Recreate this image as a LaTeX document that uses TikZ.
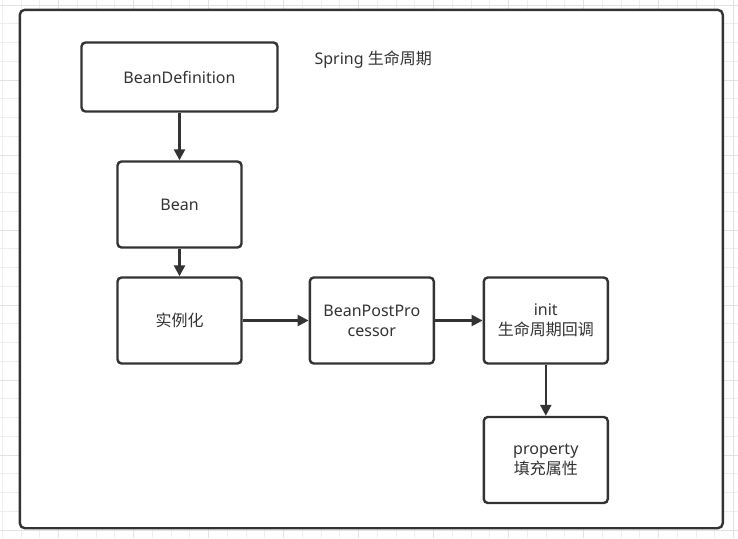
\documentclass[tikz,border=0pt]{standalone}
\usepackage{fontspec}
\setmainfont{Noto Sans}
\newfontfamily\cjk{Noto Sans CJK SC}
\usetikzlibrary{arrows.meta}
\definecolor{ink}{HTML}{333333}
\definecolor{gridminor}{HTML}{EEEEEE}
\definecolor{gridmajor}{HTML}{E2E2E2}
\tikzset{
  stepbox/.style={draw=ink, line width=2.4pt, rounded corners=4pt, fill=white,
    text=ink, align=center, inner sep=0pt,
    font=\fontsize{16}{20}\selectfont,
    minimum width=124pt, minimum height=86pt},
  flow/.style={draw=ink, line width=2.4pt, -{Triangle[length=11pt,width=11pt]}},
}
\begin{document}
\begin{tikzpicture}[x=1pt,y=-1pt]
  \useasboundingbox (0,0) rectangle (738,538);
  % background grid
  \foreach \gx in {2.25,21,...,740} \draw[gridminor, line width=0.8pt] (\gx,0) -- (\gx,538);
  \foreach \gy in {5,23.75,...,540} \draw[gridminor, line width=0.8pt] (0,\gy) -- (738,\gy);
  \foreach \gx in {58.5,133.5,...,740} \draw[gridmajor, line width=0.8pt] (\gx,0) -- (\gx,538);
  \foreach \gy in {5,80,...,540} \draw[gridmajor, line width=0.8pt] (0,\gy) -- (738,\gy);
  % outer frame
  \draw[ink, line width=2.4pt, rounded corners=5pt, fill=white] (19.8,9.8) rectangle (722.8,528.2);
  % title
  \node[text=ink, font=\fontsize{16}{20}\selectfont, anchor=west] (title) at (311,60) {Spring {\cjk 生命周期}};
  % steps
  \node[stepbox, minimum width=196pt, minimum height=69pt] (def) at (179.5,77) {BeanDefinition};
  \node[stepbox] (bean) at (179.5,204.5) {Bean};
  \node[stepbox] (inst) at (179.5,320.5) {\cjk 实例化};
  \node[stepbox] (bpp) at (371.8,320.5) {BeanPostPro\\cessor};
  \node[stepbox] (init) at (545.8,320.5) {init\\{\cjk 生命周期回调}};
  \node[stepbox] (prop) at (545.8,460) {property\\{\cjk 填充属性}};
  % connectors
  \draw[flow] (def) -- (bean);
  \draw[flow] (bean) -- (inst);
  \draw[flow] (inst) -- (bpp);
  \draw[flow] (bpp) -- (init);
  \draw[flow] (init) -- (prop);
\end{tikzpicture}
\end{document}
